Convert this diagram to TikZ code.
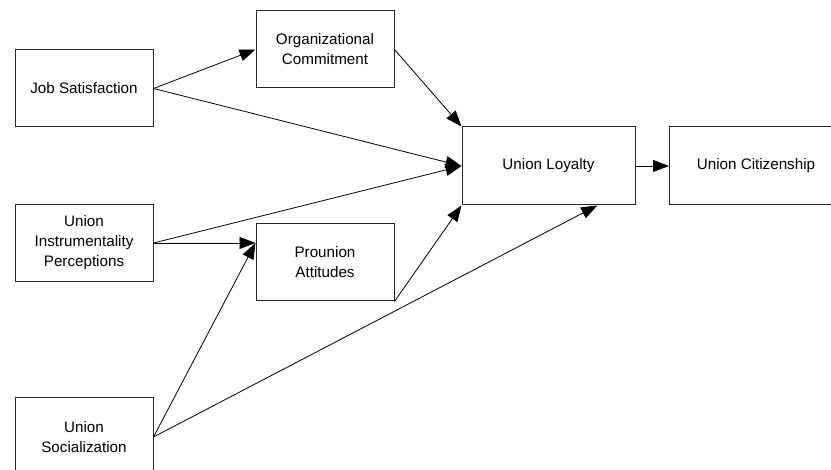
\documentclass[tikz,border=0pt]{standalone}
\usepackage{fontspec}
\setmainfont{Liberation Sans}
\usetikzlibrary{arrows.meta,calc}
\begin{document}
\begin{tikzpicture}[x=1pt,y=-1pt,
  box/.style={draw=black!85,line width=1pt,fill=white,inner sep=0pt,
    align=center,font=\fontsize{15.2}{20}\selectfont},
  link/.style={line width=0.8pt,-{Triangle[length=16pt,width=12pt]}}]
\useasboundingbox (0,0) rectangle (831,470);
% constructs
\node[box,minimum width=138pt,minimum height=77pt] (js) at (84,88.5) {Job Satisfaction};
\node[box,minimum width=138pt,minimum height=77pt] (oc) at (325,49.5) {Organizational\\Commitment};
\node[box,minimum width=138pt,minimum height=77pt] (uip) at (84,243) {Union\\Instrumentality\\Perceptions};
\node[box,minimum width=138pt,minimum height=77pt] (pa) at (325,262.5) {Prounion\\Attitudes};
\node[box,minimum width=173pt,minimum height=78pt] (ul) at (548.5,166) {Union Loyalty};
\node[box,minimum width=173pt,minimum height=78pt,anchor=west] (uc) at (669,166) {Union Citizenship};
\node[box,minimum width=138pt,minimum height=78pt] (us) at (84,437) {Union\\Socialization};
% connection points
\coordinate (paIn) at ($(pa.north west)!0.25!(pa.south west)$);
\coordinate (ulBot) at ($(ul.south west)!0.78!(ul.south east)$);
% paths
\draw[link] (js.east) -- (oc.west);
\draw[link] (js.east) -- (ul.west);
\draw[link] (oc.east) -- (ul.north west);
\draw[link] (uip.east) -- (ul.west);
\draw[link] (uip.east) -- (paIn);
\draw[link] (us.east) -- (paIn);
\draw[link] (us.east) -- (ulBot);
\draw[link] (pa.south east) -- (ul.south west);
\draw[link] (ul.east) -- (uc.west);
\end{tikzpicture}
\end{document}
